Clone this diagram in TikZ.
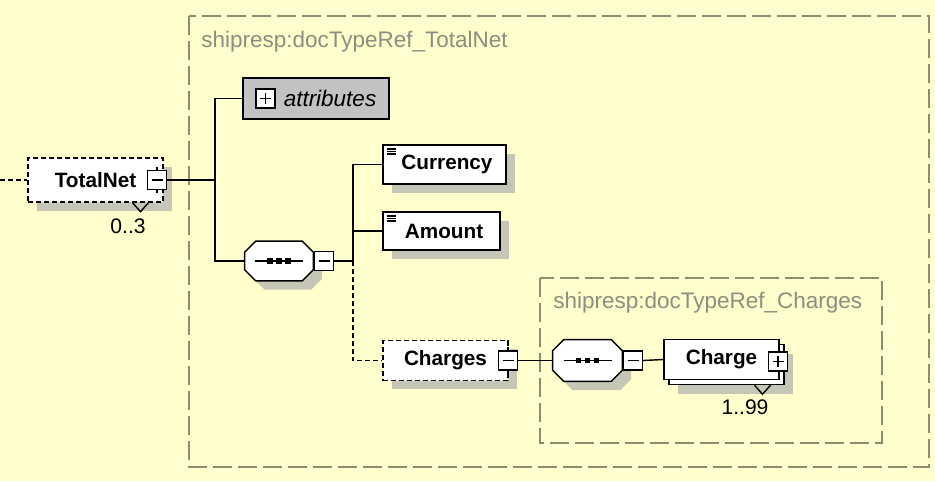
\documentclass[tikz,border=0pt]{standalone}
\usepackage{fontspec}
\setmainfont{Liberation Sans}
\usetikzlibrary{positioning,shadows,calc}
\definecolor{PaleYellow}{HTML}{FFFECC}
\definecolor{GroupOlive}{HTML}{8E8C6E}
\definecolor{LabelGray}{HTML}{8E8E80}
\definecolor{AttrGray}{HTML}{C2C2C2}
\definecolor{ShadowGray}{HTML}{C6C6B6}
\newcommand{\namefont}{\fontsize{11.8}{14}\selectfont\bfseries}
\newcommand{\grpfont}{\fontsize{12.8}{15}\selectfont}
% octagon outline round a placeholder node
\newcommand{\octpath}[1]{($(#1.north west)+(11,0)$) -- ($(#1.north east)+(-11,0)$)
  -- ($(#1.north east)+(0,11)$) -- ($(#1.south east)+(0,-11)$)
  -- ($(#1.south east)+(-11,0)$) -- ($(#1.south west)+(11,0)$)
  -- ($(#1.south west)+(0,-11)$) -- ($(#1.north west)+(0,11)$) -- cycle}

\begin{document}
\begin{tikzpicture}[x=0.02cm, y=-0.02cm,
  conn/.style     = {line width=0.8pt, black},
  optconn/.style  = {conn, dash pattern=on 0.1cm off 0.06cm},
  elem/.style     = {draw, fill=white, line width=0.8pt, inner sep=0pt,
                     minimum height=0.8cm, font=\namefont,
                     drop shadow={shadow xshift=5pt, shadow yshift=-5pt,
                                  fill=ShadowGray, opacity=1}},
  optelem/.style  = {elem, dash pattern=on 0.1cm off 0.06cm},
  simple/.style   = {elem, path picture={
      \foreach \dy in {0.08,0.13,0.18}
        \draw[line width=0.7pt, solid] ([xshift=0.08cm, yshift=-\dy cm]path picture bounding box.north west) -- +(0.17cm,0);}},
  multielem/.style = {draw, fill=white, line width=0.8pt, inner sep=0pt,
                     minimum height=0.8cm, font=\namefont,
                     drop shadow={shadow xshift=8pt, shadow yshift=-8pt,
                                  fill=ShadowGray, opacity=1},
                     copy shadow={shadow xshift=2.8pt, shadow yshift=-2.8pt,
                                  draw=black, fill=white, line width=0.8pt}},
  seq/.style      = {inner sep=0pt, minimum width=1.36cm, minimum height=0.78cm},
  toggle/.style   = {draw, fill=white, line width=0.8pt, inner sep=0pt,
                     minimum width=0.38cm, minimum height=0.38cm},
  minusbox/.style = {toggle, path picture={
      \draw[line width=0.8pt] ([xshift=-0.11cm]path picture bounding box.center) -- ([xshift=0.11cm]path picture bounding box.center);}},
  plusbox/.style  = {toggle, path picture={
      \draw[line width=0.8pt] ([xshift=-0.11cm]path picture bounding box.center) -- ([xshift=0.11cm]path picture bounding box.center)
        ([yshift=-0.11cm]path picture bounding box.center) -- ([yshift=0.11cm]path picture bounding box.center);}},
  attrbox/.style  = {draw, fill=AttrGray, line width=0.8pt, inner sep=0pt,
                     font=\grpfont\itshape},
  grp/.style      = {draw=GroupOlive, line width=0.7pt, dash pattern=on 0.38cm off 0.12cm},
  grplabel/.style = {font=\grpfont, text=LabelGray, anchor=west, inner sep=0pt},
  occurs/.style   = {font=\fontsize{12}{14}\selectfont, inner sep=0pt}
]
  \useasboundingbox (0,0) rectangle (935,481);
  \fill[PaleYellow] (0,0) rectangle (935,481);

  % type groups
  \draw[grp] (189,16) rectangle (929,467);
  \node[grplabel] (lblnet) at (201,42) {shipresp:docTypeRef\_TotalNet};
  \draw[grp] (540,278) rectangle (882,443);
  \node[grplabel] (lblchg) at (553,303) {shipresp:docTypeRef\_Charges};

  % root element
  \node[optelem, minimum width=2.7cm, minimum height=0.88cm] (tn) at (95.5,180) {TotalNet\hspace{0.22cm}};
  \node[minusbox] (tnm) at (157,180) {};
  \draw[conn] (tnm.north) -- ++(0,-3) (tnm.south) -- ++(0,3);
  \coordinate (inlet) at (0,180);
  \draw[optconn] (inlet) -- (tn.west);
  \node[occurs] (tnocc) at (128,226) {0..3};
  \draw[conn] ($(tn.south)+(37,0)$) -- ++(8,9) -- ++(8,-9);

  % sequence compositors
  \node[seq] (seq1) at (279,261) {};
  \node[seq, minimum width=1.38cm, minimum height=0.82cm] (seq2) at (587.5,360.5) {};
  \foreach \o in {seq1,seq2}{
    \fill[ShadowGray, transform canvas={shift={(5pt,-5pt)}}] \octpath{\o};
    \filldraw[fill=white, line width=0.8pt] \octpath{\o};
    \draw[line width=1.1pt] ($(\o.center)+(-24,0)$) -- ($(\o.center)+(24,0)$);
    \foreach \dx in {-9,0,9}
      \fill ($(\o.center)+(\dx,0)$) +(-2.6,-2.6) rectangle +(2.6,2.6);
  }

  % attributes and sequence
  \node[attrbox, minimum width=2.92cm, minimum height=0.82cm] (attr) at (316,98.5) {\hspace*{0.56cm}attributes};
  \node[plusbox] (attrp) at (265.5,98.5) {};
  \node[minusbox] (seq1m) at (324,261) {};
  \coordinate (sp) at (215,180);
  \draw[conn] (tnm.east) -- (sp);
  \draw[conn] (attr.west) -| (sp) |- (seq1.west);

  % children
  \coordinate (jn) at (353,261);
  \draw[conn] (seq1m.east) -- (jn);
  \node[simple, minimum width=2.46cm, minimum height=0.78cm] (cur) at (444.5,164.5) {\hspace*{0.1cm}Currency};
  \node[simple, minimum width=2.34cm, minimum height=0.76cm] (amt) at (441.5,231) {\hspace*{0.1cm}Amount};
  \draw[conn] (cur.west) -| (jn);
  \draw[conn] (amt.west) -- (amt.west -| jn);
  \node[optelem, minimum width=2.5cm] (chg) at (445.5,360.5) {Charges};
  \node[minusbox] (chgm) at (508,360.5) {};
  \draw[conn] (chgm.north) -- ++(0,-3) (chgm.south) -- ++(0,3);
  \draw[optconn] (jn) |- (chg.west);

  % charges content
  \node[minusbox] (seq2m) at (633,360.5) {};
  \draw[conn] (chgm.east) -- (seq2.west);
  \node[multielem, minimum width=2.3cm] (item) at (721.5,359.5) {Charge\hspace{0.16cm}};
  \node[plusbox] (itemp) at (778,361.5) {};
  \draw[conn] (seq2m.east) -- (item.west);
  \node[occurs] (itemocc) at (745,407) {1..99};
  \draw[conn] ($(item.south)+(33,5)$) -- ++(8,9) -- ++(8,-9);
\end{tikzpicture}
\end{document}
